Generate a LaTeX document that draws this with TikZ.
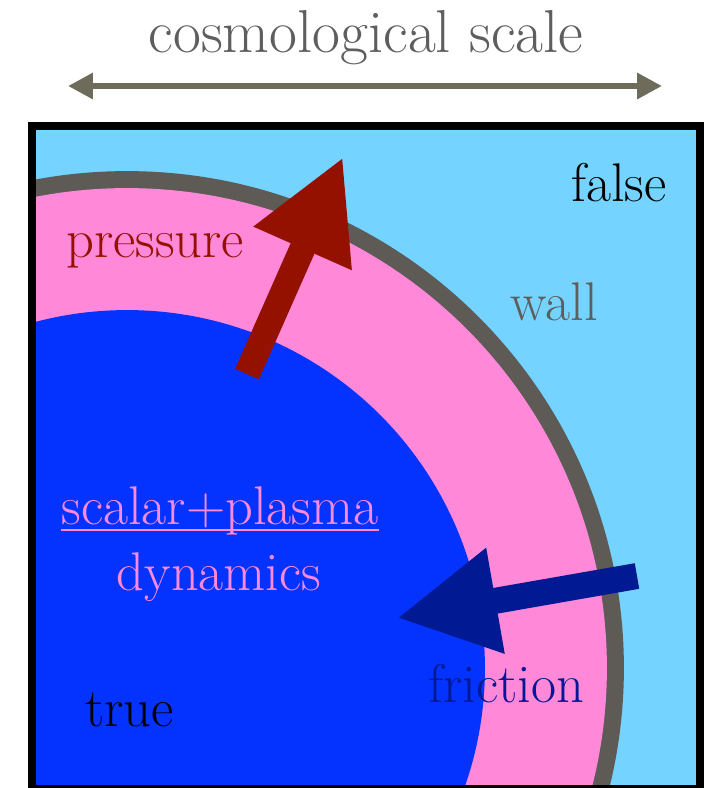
\documentclass[tikz,border=0pt]{standalone}
\usetikzlibrary{arrows.meta}
\definecolor{falseblue}{HTML}{75D4FF}
\definecolor{plasmapink}{HTML}{FF89D8}
\definecolor{trueblue}{HTML}{0433FF}
\definecolor{wallgray}{HTML}{5E5A55}
\definecolor{pressred}{HTML}{941100}
\definecolor{fricblue}{HTML}{011993}
\definecolor{scalegray}{HTML}{6F6B5B}
\definecolor{labelgray}{HTML}{5E5E5E}
\tikzset{
  lab/.style        = {font=\fontsize{31}{37}\selectfont, anchor=base, inner sep=0pt},
  force/.style      = {line width=0.52cm, -{Triangle[length=2cm, width=2cm]}},
  scalearrow/.style = {line width=0.13cm, draw=scalegray,
                       {Triangle[length=0.5cm, width=0.5cm]}-{Triangle[length=0.5cm, width=0.5cm]}},
}

\begin{document}
\begin{tikzpicture}[x=0.02cm, y=-0.02cm]
\useasboundingbox (0,0) rectangle (712,788);

% Reference points (pixel grid, origin top left)
\coordinate (c)     at (127,668);
\coordinate (boxnw) at (32,125.5);
\coordinate (boxse) at (700,789);

% Regions of the bubble
\fill[falseblue] (boxnw) rectangle (boxse);
\begin{scope}
  \clip (boxnw) rectangle (boxse);
  \fill[wallgray]   (c) circle[radius=9.94cm];
  \fill[plasmapink] (c) circle[radius=9.6cm];
  \fill[trueblue]   (c) circle[radius=7.16cm];
\end{scope}
\draw[line width=0.16cm] (boxnw) rectangle (boxse);

% Forces on the wall
\coordinate (p0) at (247,374);
\coordinate (p1) at (343,157);
\coordinate (f0) at (637,576);
\coordinate (f1) at (397,618);
\draw[force, draw=pressred, fill=pressred] (p0) -- (p1);
\draw[force, draw=fricblue, fill=fricblue] (f0) -- (f1);

% Scale
\node (title) [lab, text=labelgray, font=\fontsize{34.5}{41}\selectfont] at (366,52) {cosmological scale};
\coordinate (sl) at (68,86);
\coordinate (sr) at (662,86);
\draw[scalearrow] (sl) -- (sr);

% Labels
\node (falselab) [lab]                   at (619,201) {false};
\node (walllab)  [lab, text=labelgray]   at (554,320) {wall};
\node (presslab) [lab, text=pressred]    at (155,257) {pressure};
\node (dynlab1)  [lab, text=plasmapink]  at (220,524) {scalar+plasma};
\node (dynlab2)  [lab, text=plasmapink]  at (219,590) {dynamics};
\node (truelab)  [lab]                   at (129.5,726) {true};
\node (friclab)  [lab, text=fricblue]    at (506,702) {friction};
\draw[plasmapink, line width=0.04cm]
  ([yshift=-0.12cm]dynlab1.base west) -- ([yshift=-0.12cm]dynlab1.base east);

\end{tikzpicture}
\end{document}
